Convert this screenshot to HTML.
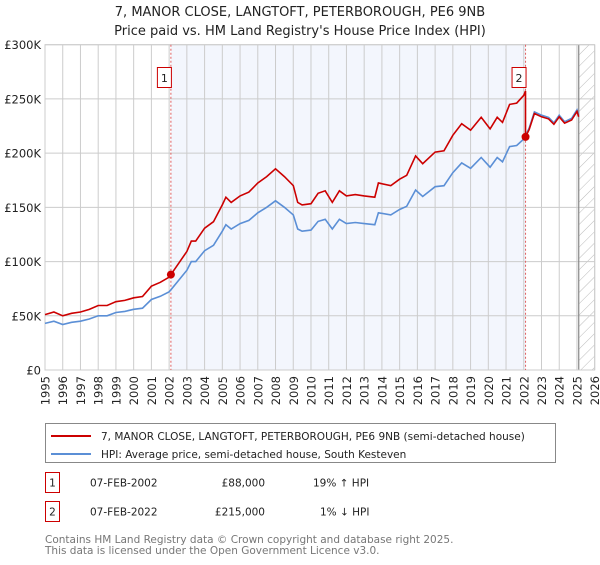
<!DOCTYPE html>
<html><head><meta charset="utf-8">
<style>
body{margin:0;background:#fff;font-family:"Liberation Sans","DejaVu Sans",sans-serif;}
svg text{font-family:"DejaVu Sans","Liberation Sans",sans-serif;}
</style></head>
<body>
<svg id="chart" width="600" height="560" viewBox="0 0 600 560" xmlns="http://www.w3.org/2000/svg">
<defs>
<pattern id="hatch" patternUnits="userSpaceOnUse" width="8" height="8" patternTransform="rotate(45)">
<line x1="0" y1="0" x2="0" y2="8" stroke="#bbb" stroke-width="1"/>
</pattern>
</defs>
<text x="300" y="16" text-anchor="middle" font-size="13" fill="#222">7, MANOR CLOSE, LANGTOFT, PETERBOROUGH, PE6 9NB</text>
<text x="300" y="35" text-anchor="middle" font-size="13" fill="#222">Price paid vs. HM Land Registry's House Price Index (HPI)</text>
<g id="plot"></g>
<g>
<rect x="45.5" y="423.5" width="510" height="39" fill="#fff" stroke="#888"/>
<line x1="51" y1="436" x2="91" y2="436" stroke="#cc0000" stroke-width="2"/>
<text x="101" y="440" font-size="10.5" fill="#222">7, MANOR CLOSE, LANGTOFT, PETERBOROUGH, PE6 9NB (semi-detached house)</text>
<line x1="51" y1="454" x2="91" y2="454" stroke="#5b8fd6" stroke-width="2"/>
<text x="101" y="458" font-size="10.5" fill="#222">HPI: Average price, semi-detached house, South Kesteven</text>
</g>
<g font-size="10.5" fill="#222">
<rect x="45.5" y="472.5" width="14" height="20" fill="#fff" stroke="#cc0000"/>
<text x="52.5" y="486.5" text-anchor="middle">1</text>
<text x="90" y="486.5">07-FEB-2002</text>
<text x="265" y="486.5" text-anchor="end">£88,000</text>
<text x="313" y="486.5">19% ↑ HPI</text>
<rect x="45.5" y="501.5" width="14" height="20" fill="#fff" stroke="#cc0000"/>
<text x="52.5" y="515.5" text-anchor="middle">2</text>
<text x="90" y="515.5">07-FEB-2022</text>
<text x="265" y="515.5" text-anchor="end">£215,000</text>
<text x="320" y="515.5">1% ↓ HPI</text>
</g>
<g font-size="10.5" fill="#777">
<text x="45" y="543">Contains HM Land Registry data © Crown copyright and database right 2025.</text>
<text x="45" y="554">This data is licensed under the Open Government Licence v3.0.</text>
</g>
</svg>
<script>
const hpiYears=[1995.0,1995.5,1996.0,1996.5,1997.0,1997.5,1998.0,1998.5,1999.0,1999.5,2000.0,2000.5,2001.0,2001.5,2002.0,2002.1,2002.5,2003.0,2003.25,2003.5,2004.0,2004.5,2005.0,2005.2,2005.5,2006.0,2006.5,2007.0,2007.5,2008.0,2008.5,2009.0,2009.25,2009.5,2010.0,2010.4,2010.8,2011.2,2011.6,2012.0,2012.5,2013.0,2013.6,2013.8,2014.5,2015.0,2015.4,2015.9,2016.3,2017.0,2017.5,2018.0,2018.5,2019.0,2019.6,2020.1,2020.5,2020.8,2021.2,2021.6,2022.0,2022.3,2022.6,2023.0,2023.4,2023.7,2024.0,2024.3,2024.7,2025.0,2025.1];
const hpiValues=[43,45,42,44,45,47,50,50,53,54,56,57,65,68,72,74,82,92,100,100,110,115,128,134,130,135,138,145,150,156,150,143,130,128,129,137,139,130,139,135,136,135,134,145,143,148,151,166,160,169,170,182,191,186,196,187,196,192,206,207,213,223,238,235,233,228,235,229,232,240,235];
const saleYears=[2002.1,2022.1];
const salePrices=[88,215];
const saleLabels=["1","2"];
const yTicks=[0,50,100,150,200,250,300];
const yTickLabels=["£0","£50K","£100K","£150K","£200K","£250K","£300K"];
const xTicks=[1995,1996,1997,1998,1999,2000,2001,2002,2003,2004,2005,2006,2007,2008,2009,2010,2011,2012,2013,2014,2015,2016,2017,2018,2019,2020,2021,2022,2023,2024,2025,2026];
const dataEnd=2025.1;

const X0=45,X1=594.7,Y0=370,Y1=44.7,xmin=1995,xmax=2026,ymax=300;
const xs=v=>X0+(v-xmin)/(xmax-xmin)*(X1-X0);
const ys=v=>Y0-v/ymax*(Y0-Y1);
const NS="http://www.w3.org/2000/svg";
const plot=document.getElementById('plot');
function mk(tag,attrs,parent){const e=document.createElementNS(NS,tag);for(const k in attrs)e.setAttribute(k,attrs[k]);(parent||plot).appendChild(e);return e;}
function hpiAt(t){for(let i=0;i<hpiYears.length-1;i++){if(t>=hpiYears[i]&&t<=hpiYears[i+1]){const f=(t-hpiYears[i])/(hpiYears[i+1]-hpiYears[i]);return hpiValues[i]+f*(hpiValues[i+1]-hpiValues[i]);}}return hpiValues[hpiValues.length-1];}

const bg=mk('rect',{x:X0,y:Y1,width:X1-X0,height:Y0-Y1,fill:'#fff'});


const shade=mk('rect',{x:xs(saleYears[0]),y:Y1,width:xs(saleYears[1])-xs(saleYears[0]),height:Y0-Y1,fill:'#f3f6fd'});


const hatch=mk('rect',{x:xs(dataEnd),y:Y1,width:X1-xs(dataEnd),height:Y0-Y1,fill:'url(#hatch)'});



xTicks.forEach(t=>{
  const g=mk('line',{x1:xs(t),x2:xs(t),y1:Y1,y2:Y0,stroke:'#ccc','stroke-width':1});
  
  
  const lb=mk('text',{x:0,y:0,transform:`translate(${xs(t)+4.5},${Y0+6}) rotate(-90)`,'text-anchor':'end','font-size':11.5,fill:'#222'});
  lb.textContent=t;
  
  
});
yTicks.forEach((t,i)=>{
  const g=mk('line',{x1:X0,x2:X1,y1:ys(t),y2:ys(t),stroke:'#ccc','stroke-width':1});
  
  
  const lb=mk('text',{x:41,y:ys(t)+4.5,'text-anchor':'end','font-size':11.5,fill:'#222'});
  lb.textContent=yTickLabels[i];
  
  
});
const endLine=mk('line',{x1:xs(dataEnd),x2:xs(dataEnd),y1:Y1,y2:Y0,stroke:'#888','stroke-width':1.2});


const frame=mk('rect',{x:X0,y:Y1,width:X1-X0,height:Y0-Y1,fill:'none',stroke:'#ccc'});



saleYears.forEach((s,i)=>{
  const v=mk('line',{x1:xs(s),x2:xs(s),y1:Y1,y2:Y0,stroke:'#e06060','stroke-width':1,'stroke-dasharray':'2,2'});
  
  
  const bx=mk('rect',{x:xs(s)-13.5,y:67.5,width:14,height:20,fill:'#fff',stroke:'#cc0000'});
  
  
  const tx=mk('text',{x:xs(s)-6.5,y:82,'text-anchor':'middle','font-size':11,fill:'#222'});
  tx.textContent=saleLabels[i];
  
  
});

const hp=hpiYears.map((t,i)=>`${xs(t).toFixed(1)},${ys(hpiValues[i]).toFixed(1)}`).join(' ');
const hl=mk('polyline',{points:hp,fill:'none',stroke:'#5b8fd6','stroke-width':1.6});



const r1=salePrices[0]/hpiAt(saleYears[0]);
const r2=salePrices[1]/hpiAt(saleYears[1]);
let pts=[];
hpiYears.forEach((t,i)=>{ if(t<saleYears[1]) pts.push([t,hpiValues[i]*r1]); });
pts.push([saleYears[1],hpiAt(saleYears[1])*r1]);
pts.push([saleYears[1],salePrices[1]]);
hpiYears.forEach((t,i)=>{ if(t>saleYears[1]) pts.push([t,hpiValues[i]*r2]); });
const rl=mk('polyline',{points:pts.map(p=>`${xs(p[0]).toFixed(1)},${ys(p[1]).toFixed(1)}`).join(' '),fill:'none',stroke:'#cc0000','stroke-width':1.6});



saleYears.forEach((s,i)=>{
  const c=mk('circle',{cx:xs(s),cy:ys(salePrices[i]),r:4,fill:'#cc0000'});
  
  
});
</script>
</body></html>
